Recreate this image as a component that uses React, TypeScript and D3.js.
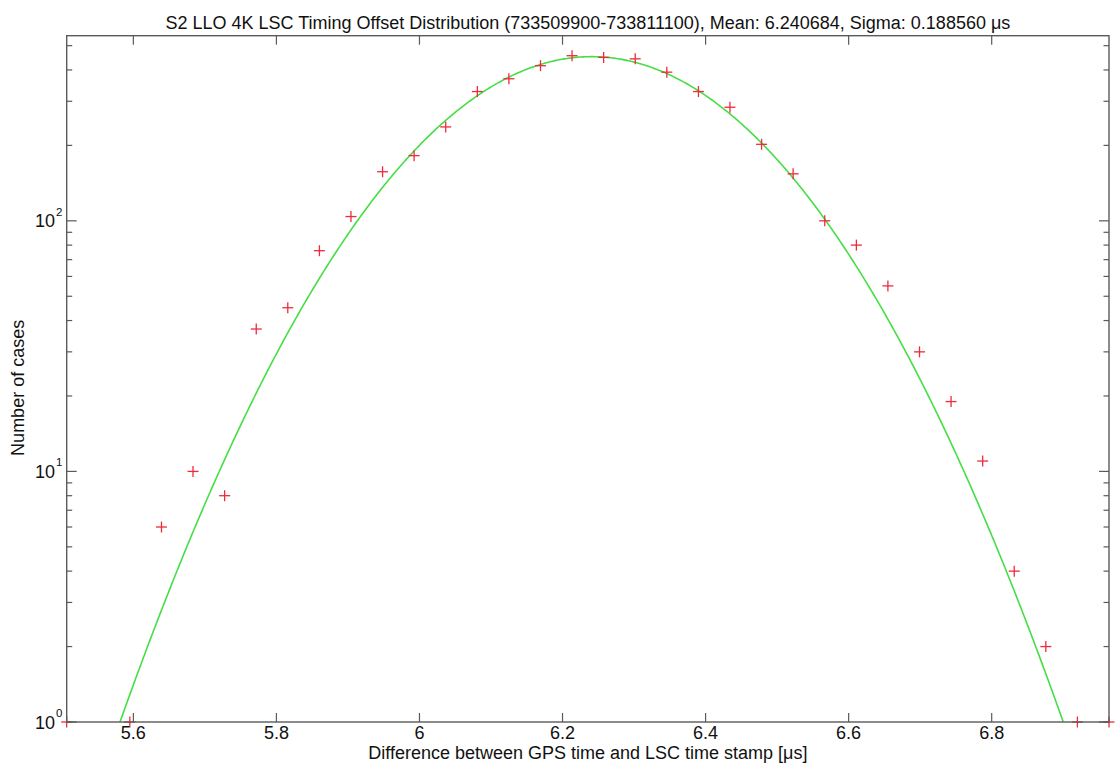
import React from 'react';
import * as d3 from 'd3';

// Bin centres (µs) and counts
const binCenters = [
  5.5068, 5.5510, 5.5951, 5.6393, 5.6834, 5.7276, 5.7718, 5.8159, 5.8601, 5.9042,
  5.9484, 5.9925, 6.0367, 6.0809, 6.1250, 6.1692, 6.2133, 6.2575, 6.3016, 6.3458,
  6.3900, 6.4341, 6.4783, 6.5224, 6.5666, 6.6108, 6.6549, 6.6991, 6.7432, 6.7874,
  6.8315, 6.8757, 6.9198, 6.9640,
];
const counts = [
  1, 0, 1, 6, 10, 8, 37, 45, 76, 104,
  157, 182, 237, 328, 369, 416, 456, 449, 443, 392,
  328, 284, 202, 154, 100, 80, 55, 30, 19, 11,
  4, 2, 1, 1,
];

// Gaussian fit parameters (mean and sigma from the title)
const fitMean = 6.240684;
const fitSigma = 0.18856;
const fitAmplitude = 452;

const xTicks = [5.6, 5.8, 6.0, 6.2, 6.4, 6.6, 6.8];
const xTickLabels = ['5.6', '5.8', '6', '6.2', '6.4', '6.6', '6.8'];
const yMajorTicks = [1, 10, 100];
const yMajorExponents = ['0', '1', '2'];
const yMax = 548;

const titleText =
  'S2 LLO 4K LSC Timing Offset Distribution (733509900-733811100), Mean: 6.240684, Sigma: 0.188560 \u03bcs';
const xLabel = 'Difference between GPS time and LSC time stamp [\u03bcs]';
const yLabel = 'Number of cases';

const W = 1115;
const H = 765;
const M = { left: 66.7, right: 1109, top: 35.7, bottom: 722 };
const FONT = '"Liberation Sans", Arial, Helvetica, sans-serif';
const AXIS = '#5a5a5a';
const FS = 18;

export default function App() {
  const x = d3
    .scaleLinear()
    .domain([binCenters[0], binCenters[binCenters.length - 1]])
    .range([M.left, M.right]);
  const y = d3.scaleLog().domain([1, yMax]).range([M.bottom, M.top]);

  const [d0, d1] = x.domain();
  const nSamples = 800;
  const fitPts: [number, number][] = d3.range(nSamples + 1).map((i) => {
    const xv = d0 + ((d1 - d0) * i) / nSamples;
    return [xv, fitAmplitude * Math.exp(-((xv - fitMean) ** 2) / (2 * fitSigma ** 2))];
  });
  const line = d3
    .line<[number, number]>()
    .x((d) => x(d[0]))
    .y((d) => y(Math.max(d[1], 1e-3)));

  const minorTicks: number[] = [];
  [1, 10, 100].forEach((dec) => {
    for (let k = 2; k <= 9; k++) {
      const v = k * dec;
      if (v <= yMax) minorTicks.push(v);
    }
  });

  const points = binCenters
    .map((b, i) => ({ b, c: counts[i] }))
    .filter((p) => p.c > 0);

  const ms = 5.5;
  const majorLen = 10;
  const minorLen = 5.5;
  const xTickLen = 9;

  return (
    <svg
      width={W}
      height={H}
      style={{ position: 'absolute', left: 0, top: 0, background: '#fff' }}
      fontFamily={FONT}
    >
      <rect x={0} y={0} width={W} height={H} fill="#fff" />
      <defs>
        <clipPath id="plotClip">
          <rect x={M.left} y={M.top} width={M.right - M.left} height={M.bottom - M.top} />
        </clipPath>
      </defs>

      {/* fit curve */}
      <path
        d={line(fitPts) || ''}
        fill="none"
        stroke="#45de45"
        strokeWidth={1.6}
        clipPath="url(#plotClip)"
      />

      {/* data markers */}
      <g stroke="#ee2b3b" strokeWidth={1.3}>
        {points.map((p, i) => {
          const cx = x(p.b);
          const cy = y(p.c);
          return (
            <g key={i}>
              <line x1={cx - ms} x2={cx + ms} y1={cy} y2={cy} />
              <line x1={cx} x2={cx} y1={cy - ms} y2={cy + ms} />
            </g>
          );
        })}
      </g>

      {/* axes box */}
      <rect
        x={M.left}
        y={M.top}
        width={M.right - M.left}
        height={M.bottom - M.top}
        fill="none"
        stroke={AXIS}
        strokeWidth={1.4}
      />

      {/* x ticks */}
      <g stroke={AXIS} strokeWidth={1.2}>
        {xTicks.map((t, i) => (
          <g key={i}>
            <line x1={x(t)} x2={x(t)} y1={M.bottom} y2={M.bottom - xTickLen} />
            <line x1={x(t)} x2={x(t)} y1={M.top} y2={M.top + xTickLen} />
          </g>
        ))}
      </g>
      <g fontSize={FS} fill="#111" textAnchor="middle">
        {xTicks.map((t, i) => (
          <text key={i} x={x(t)} y={739}>
            {xTickLabels[i]}
          </text>
        ))}
      </g>

      {/* y ticks */}
      <g stroke={AXIS} strokeWidth={1.2}>
        {yMajorTicks.map((t, i) => (
          <g key={i}>
            <line x1={M.left} x2={M.left + majorLen} y1={y(t)} y2={y(t)} />
            <line x1={M.right} x2={M.right - majorLen} y1={y(t)} y2={y(t)} />
          </g>
        ))}
        {minorTicks.map((t, i) => (
          <g key={'m' + i}>
            <line x1={M.left} x2={M.left + minorLen} y1={y(t)} y2={y(t)} />
            <line x1={M.right} x2={M.right - minorLen} y1={y(t)} y2={y(t)} />
          </g>
        ))}
      </g>
      <g fill="#111">
        {yMajorTicks.map((t, i) => (
          <g key={i}>
            <text x={55} y={y(t) + 6.5} fontSize={FS} textAnchor="end">
              10
            </text>
            <text x={56} y={y(t) - 5} fontSize={11.5} textAnchor="start">
              {yMajorExponents[i]}
            </text>
          </g>
        ))}
      </g>

      {/* title and labels */}
      <text x={(M.left + M.right) / 2} y={28.5} fontSize={FS} textAnchor="middle" fill="#111">
        {titleText}
      </text>
      <text x={(M.left + M.right) / 2} y={758.5} fontSize={FS} textAnchor="middle" fill="#111">
        {xLabel}
      </text>
      <text
        transform={`translate(24, ${(M.top + M.bottom) / 2 + 9}) rotate(-90)`}
        fontSize={FS}
        textAnchor="middle"
        fill="#111"
      >
        {yLabel}
      </text>
    </svg>
  );
}
